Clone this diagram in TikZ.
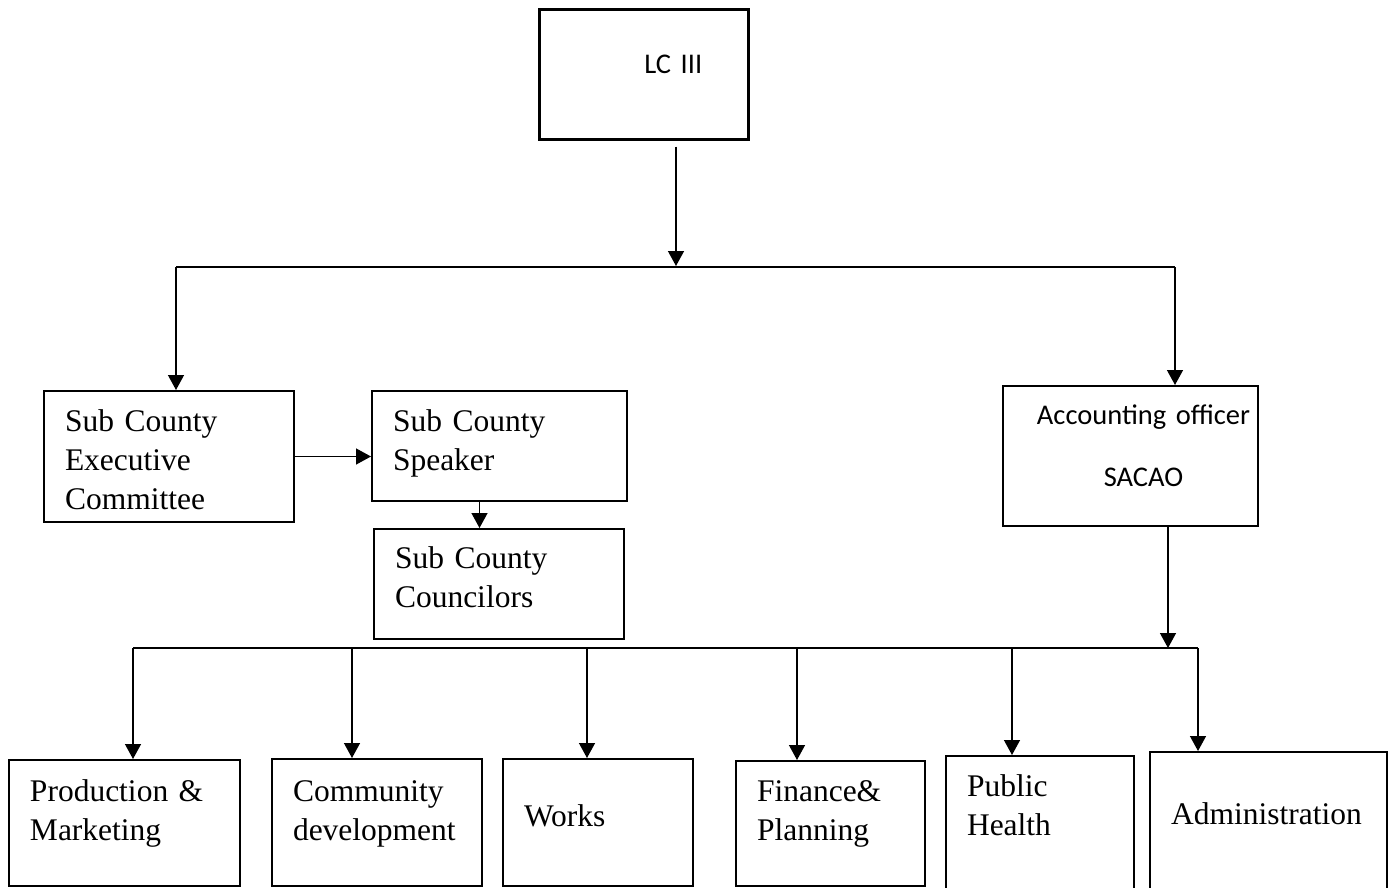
\documentclass[tikz,border=0pt]{standalone}
\usepackage{fontspec}
\setmainfont{Liberation Serif}
\newfontfamily\carlito{Carlito}
\usetikzlibrary{arrows.meta}

\begin{document}
\begin{tikzpicture}[x=1pt,y=-1pt,
  box/.style={draw,line width=2pt,anchor=north west,align=left,inner xsep=21pt,inner ysep=0pt,font=\fontsize{31.5}{39}\selectfont},
  sbox/.style={box,font=\carlito\fontsize{28.5}{34}\selectfont},
  arr/.style={-{Triangle[length=15pt,width=16pt]},line width=1.4pt},
  bar/.style={line width=1.4pt}]
\useasboundingbox (0,0) rectangle (1393,888);

\node[sbox,line width=2.6pt,text width=167pt,text height=64pt,text depth=66pt](lc) at (538,8){\hspace*{84pt}LC III};
\coordinate (lcjoin) at (676,266);
\draw[arr] ([yshift=-6pt]lc.south -| lcjoin) -- (lcjoin);

\coordinate (barL) at (176,267);
\coordinate (barR) at (1175,267);
\draw[bar] (barL) -- (barR);

\node[box,text width=208pt,text height=40pt,text depth=91pt](exec) at (43,390){Sub County\\Executive\\Committee};
\node[box,text width=213pt,text height=40pt,text depth=70pt](spk) at (371,390){Sub County\\Speaker};
\node[box,text width=208pt,text height=39pt,text depth=71pt](cnc) at (373,528){Sub County\\Councilors};
\node[sbox,align=center,inner xsep=0pt,text width=255pt,text height=38pt,text depth=102pt](acc) at (1002,385){\hspace*{26pt}Accounting officer\\[28pt]\hspace*{26pt}SACAO};

\draw[arr] (barL) -- (barL |- exec.north);
\draw[arr] (barR) -- (barR |- acc.north);
\draw[arr] (exec.east) -- (exec.east -| spk.west);
\draw[arr] ([xshift=-20pt]spk.south) -- ([xshift=-20pt]spk.south |- cnc.north);

\node[box,text width=189pt,text height=41pt,text depth=85pt](prod) at (8,759){Production \&\\Marketing};
\node[box,text width=168pt,text height=42pt,text depth=85pt](comm) at (271,758){Community\\development};
\node[box,text width=148pt,text height=67pt,text depth=60pt](works) at (502,758){Works};
\node[box,text width=147pt,text height=40pt,text depth=85pt](fin) at (735,760){Finance\&\\Planning};
\node[box,text width=146pt,text height=40pt,text depth=96pt](pub) at (945,755){Public\\Health};
\node[box,text width=195pt,text height=72pt,text depth=70pt](adm) at (1149,751){Administration};

\coordinate (accjoin) at (1168,648);
\draw[arr] (acc.south -| accjoin) -- (accjoin);

\foreach \x/\n in {133/prod,352/comm,587/works,797/fin,1012/pub,1198/adm}{
  \coordinate (d\n) at (\x,648);
  \draw[arr] (d\n) -- (d\n |- \n.north);
}
\draw[bar] (dprod) -- (dadm);
\end{tikzpicture}
\end{document}
